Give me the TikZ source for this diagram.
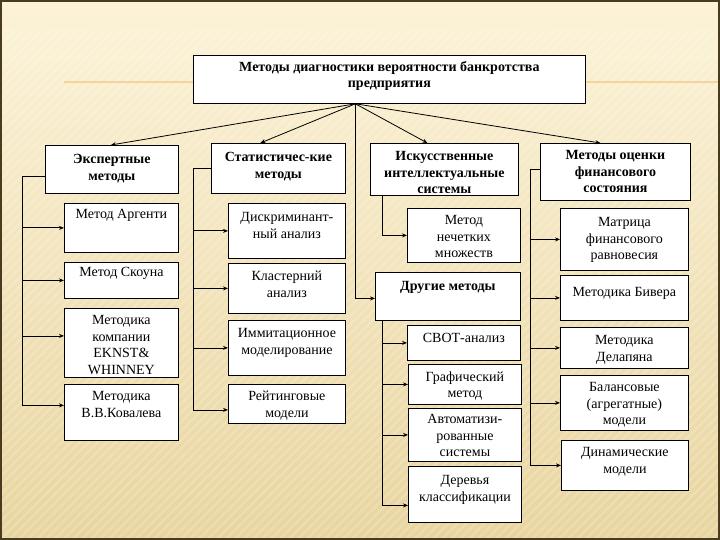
\documentclass[tikz,border=0pt]{standalone}
\usepackage{fontspec}
\setmainfont{Liberation Serif}
\usetikzlibrary{arrows.meta}
\definecolor{bgtop}{HTML}{FCF3D8}
\definecolor{bgbot}{HTML}{E8D49E}
\definecolor{frame}{HTML}{4A3B1E}
\definecolor{deco}{HTML}{F0CF8C}
\newcommand\tb[4]{\parbox[c][#2pt][t]{#1pt}{\centering\vspace*{#3pt}#4}}
\begin{document}
\begin{tikzpicture}[x=1pt,y=-1pt,
  box/.style={draw=black,fill=white,line width=0.8pt,inner sep=0pt,anchor=north west,
    font=\fontsize{14}{16.5}\selectfont},
  hd/.style={box,font=\fontsize{14}{16.5}\selectfont\bfseries},
  ln/.style={draw=black,line width=0.8pt},
  arr/.style={ln,-{Stealth[length=5pt,width=4pt]}}]
\useasboundingbox (0,0) rectangle (720,540);
\shade[top color=bgtop,bottom color=bgbot] (0,0) rectangle (720,540);
\begin{scope}
  \clip (0,30) rectangle (720,540);
  \foreach \i in {0,9,...,1260} {
    \draw[white,opacity=0.18,line width=2.5pt] (\i-540,540) -- (\i,0);
  }
\end{scope}
\draw[deco,line width=1.5pt,opacity=0.8] (64,82) -- (720,82);
\draw[frame,line width=1.5pt] (1,1) rectangle (719,539);

% title
\node[hd] (title) at (193,55) {\tb{392}{48}{6}{Методы диагностики вероятности банкротства\\предприятия}};
\coordinate (hub) at ([xshift=-34pt]title.south);

% headers
\node[hd] (exp) at (45,145) {\tb{133}{48}{9}{Экспертные\\методы}};
\node[hd] (stat) at (211,143) {\tb{134}{50}{9}{Статистичес-кие\\методы}};
\node[hd] (ai) at (370,143) {\tb{148}{52}{8}{Искусственные\\интеллектуальные\\системы}};
\node[hd] (fin) at (540,143) {\tb{150}{57}{7}{Методы оценки\\финансового\\состояния}};
\node[hd] (oth) at (375,272) {\tb{145}{48}{9}{Другие методы}};

% expert column
\node[box] (arg) at (64,203) {\tb{114}{49}{6}{Метод Аргенти}};
\node[box] (sko) at (64,262) {\tb{114}{36}{5}{Метод Скоуна}};
\node[box] (ek) at (64,308) {\tb{114}{69}{7}{Методика\\компании\\EKNST\&\\WHINNEY}};
\node[box] (kov) at (64,384) {\tb{114}{56}{7}{Методика\\В.В.Ковалева}};

% statistical column
\node[box] (dis) at (228,203) {\tb{117}{55}{9}{Дискриминант-\\ный анализ}};
\node[box] (kla) at (228,263) {\tb{117}{50}{8}{Кластерний\\анализ}};
\node[box] (imm) at (228,320) {\tb{117}{55}{8}{Иммитационное\\моделирование}};
\node[box] (rat) at (228,384) {\tb{117}{39}{7}{Рейтинговые\\модели}};

% AI / other column
\node[box] (fuz) at (407,208) {\tb{113}{54}{7}{Метод\\нечетких\\множеств}};
\node[box] (svot) at (407,325) {\tb{113}{35}{8}{СВОТ-анализ}};
\node[box] (gra) at (408,364) {\tb{113}{40}{7}{Графический\\метод}};
\node[box] (aut) at (408,408) {\tb{113}{53}{6}{Автоматизи-\\рованные\\системы}};
\node[box] (tre) at (408,466) {\tb{113}{56}{9}{Деревья\\классификации}};

% financial column
\node[box] (mat) at (560,208) {\tb{128}{62}{9}{Матрица\\финансового\\равновесия}};
\node[box] (biv) at (560,275) {\tb{128}{45}{12}{Методика Бивера}};
\node[box] (del) at (560,327) {\tb{128}{41}{8}{Методика\\Делапяна}};
\node[box] (bal) at (560,375) {\tb{128}{55}{7}{Балансовые\\(агрегатные)\\модели}};
\node[box] (dyn) at (561,440) {\tb{127}{50}{7}{Динамические\\модели}};

% arrows from title
\draw[arr] (hub) -- ([xshift=-1pt]exp.north);
\draw[arr] (hub) -- ([xshift=-18pt]stat.north);
\draw[arr] (hub) -- ([xshift=-17pt]ai.north);
\draw[arr] (hub) -- ([xshift=-15pt]fin.north);
\draw[arr] (hub) |- ([yshift=-2pt]oth.west);

% expert bracket
\coordinate (ex) at (22,0);
\coordinate (ekA) at ([yshift=7pt]ek.west);
\coordinate (kovA) at ([yshift=7pt]kov.west);
\draw[ln] ([yshift=-7pt]exp.west) -| (ex |- kovA);
\draw[arr] (ex |- arg.west) -- (arg.west);
\draw[arr] (ex |- sko.west) -- (sko.west);
\draw[arr] (ex |- ekA) -- (ekA);
\draw[arr] (ex |- kovA) -- (kovA);

% statistical bracket
\coordinate (sx) at (193,0);
\coordinate (ratA) at ([yshift=-6pt]rat.west);
\draw[ln] (stat.west) -| (sx |- ratA);
\draw[arr] (sx |- dis.west) -- (dis.west);
\draw[arr] (sx |- kla.west) -- (kla.west);
\draw[arr] (sx |- imm.west) -- (imm.west);
\draw[arr] (sx |- ratA) -- (ratA);

% AI
\draw[arr] ([xshift=12pt]ai.south west) |- (fuz.west);

% other bracket
\coordinate (otop) at ([xshift=7pt]oth.south west);
\coordinate (treA) at ([yshift=-11pt]tre.west);
\draw[ln] (otop) -- (otop |- treA);
\draw[arr] (otop |- svot.west) -- (svot.west);
\draw[arr] (otop |- gra.west) -- (gra.west);
\draw[arr] (otop |- aut.west) -- (aut.west);
\draw[arr] (otop |- treA) -- (treA);

% financial bracket
\coordinate (fx) at (530,0);
\draw[ln] ([yshift=2pt]fin.west) -| (fx |- dyn.west);
\draw[arr] (fx |- mat.west) -- (mat.west);
\draw[arr] (fx |- biv.west) -- (biv.west);
\draw[arr] (fx |- del.west) -- (del.west);
\draw[arr] (fx |- bal.west) -- (bal.west);
\draw[arr] (fx |- dyn.west) -- (dyn.west);
\end{tikzpicture}
\end{document}
